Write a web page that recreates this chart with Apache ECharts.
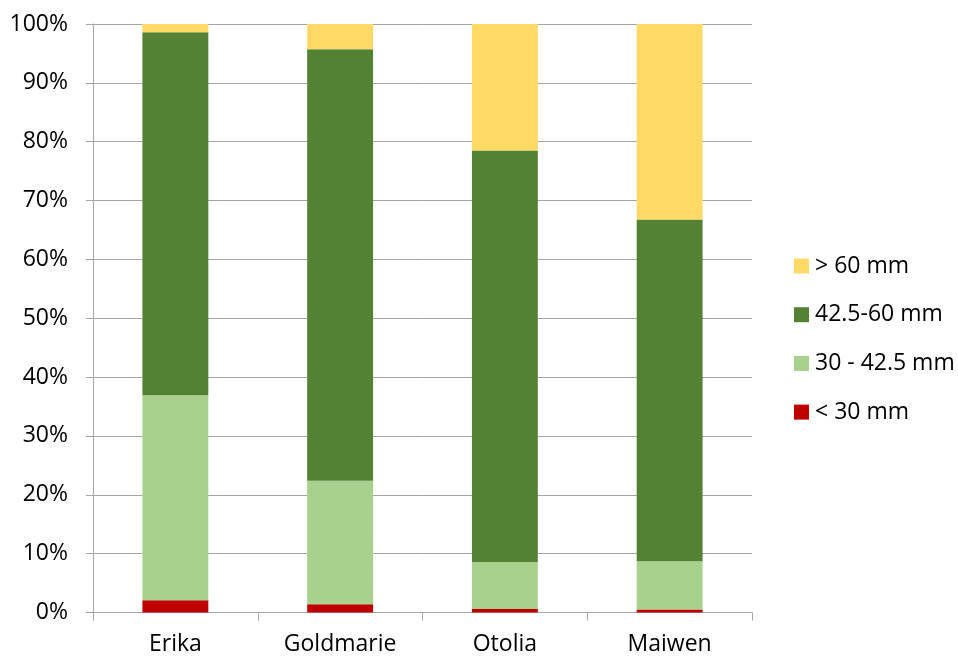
<!DOCTYPE html>
<html>
<head>
<meta charset="utf-8">
<script src="https://cdn.jsdelivr.net/npm/echarts@6/dist/echarts.min.js"></script>
<style>
html,body{margin:0;padding:0;background:#fff;}
#chart{width:958px;height:657px;}
</style>
</head>
<body>
<div id="chart"></div>
<script>
var categories = ['Erika', 'Goldmarie', 'Otolia', 'Maiwen'];
var seriesNames = ['< 30 mm', '30 - 42.5 mm', '42.5-60 mm', '> 60 mm'];
var under30 = [2.1, 1.4, 0.6, 0.5];
var from30to42 = [34.8, 21.0, 8.0, 8.2];
var from42to60 = [61.7, 73.3, 69.9, 58.1];
var over60 = [1.4, 4.3, 21.5, 33.2];
var yTicks = [0, 10, 20, 30, 40, 50, 60, 70, 80, 90, 100];

var colors = ['#C00000', '#A9D18E', '#548235', '#FFD966'];
var dataSets = [under30, from30to42, from42to60, over60];
var font = '"Open Sans", sans-serif';

var chart = echarts.init(document.getElementById('chart'));
chart.setOption({
  animation: false,
  grid: {left: 93, right: 206, top: 24, bottom: 44.5},
  legend: {
    orient: 'vertical',
    left: 794,
    top: 254.5,
    padding: 0,
    itemWidth: 15,
    itemHeight: 15,
    itemGap: 25.7,
    icon: 'rect',
    data: [seriesNames[3], seriesNames[2], seriesNames[1], seriesNames[0]],
    textStyle: {fontFamily: font, fontSize: 23, color: '#000', padding: [0, 0, 0, 1]}
  },
  xAxis: {
    type: 'category',
    data: categories,
    axisLine: {lineStyle: {color: '#A6A6A6', width: 1}},
    axisTick: {show: true, alignWithLabel: false, length: 8, lineStyle: {color: '#A6A6A6'}},
    axisLabel: {fontFamily: font, fontSize: 23, color: '#000', margin: 20}
  },
  yAxis: {
    type: 'value',
    min: yTicks[0],
    max: yTicks[yTicks.length - 1],
    interval: 10,
    axisLine: {show: true, lineStyle: {color: '#A6A6A6', width: 1}},
    axisTick: {show: true, length: 7, lineStyle: {color: '#A6A6A6'}},
    splitLine: {lineStyle: {color: '#A6A6A6', width: 1}},
    axisLabel: {fontFamily: font, fontSize: 23, color: '#000', margin: 25, formatter: '{value}%'}
  },
  series: seriesNames.map(function (name, i) {
    return {
      name: name,
      type: 'bar',
      stack: 'total',
      barWidth: '40%',
      itemStyle: {color: colors[i]},
      data: dataSets[i]
    };
  })
});
</script>
</body>
</html>
